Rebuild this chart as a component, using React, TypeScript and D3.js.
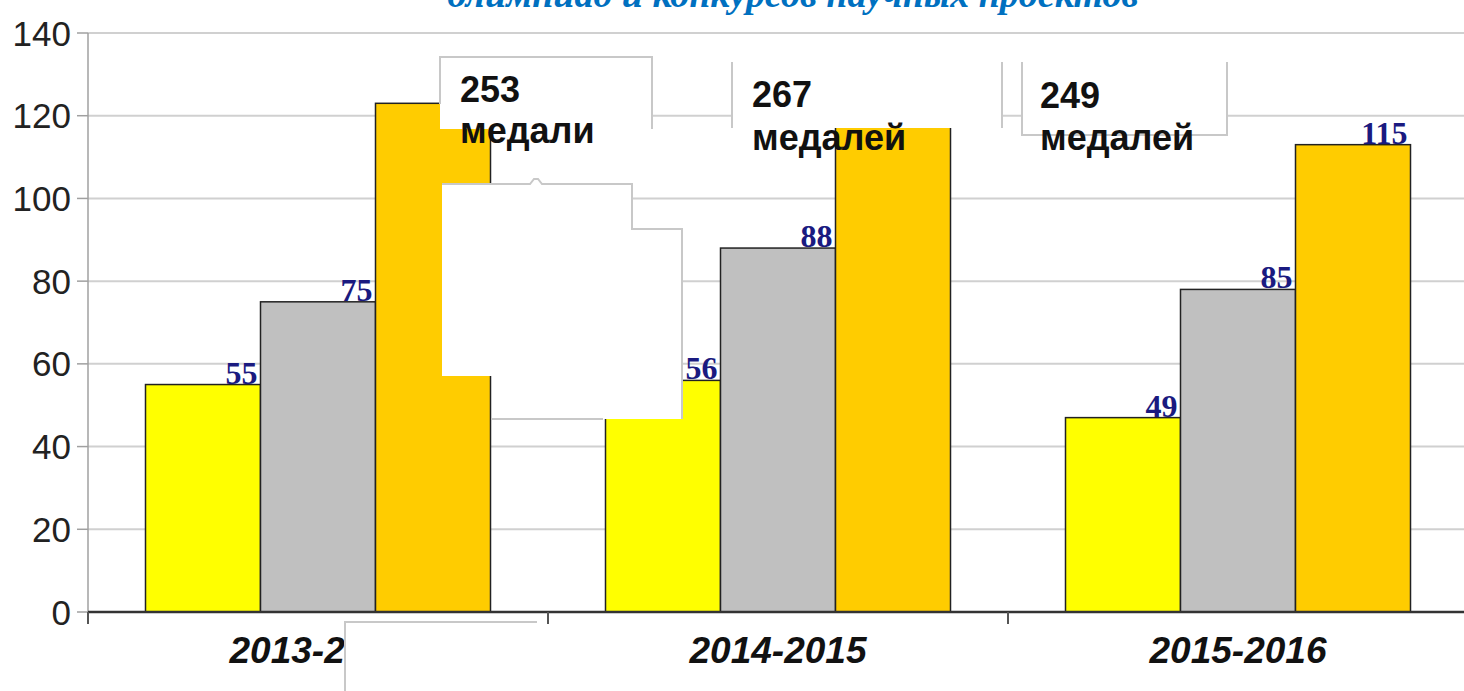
import React from 'react';
import * as d3 from 'd3';

// data
const categories = ['2013-2014', '2014-2015', '2015-2016'];
const seriesNames = ['yellow', 'gray', 'orange'];
const yellowValues = [55, 56, 47];
const grayValues = [75, 88, 78];
const orangeValues = [123, 123, 113];
// printed labels (the last group's labels differ from bar heights in the original;
// the first two orange labels are hidden under the callouts)
const yellowLabels = ['55', '56', '49'];
const grayLabels = ['75', '88', '85'];
const orangeLabels = ['', '', '115'];
const totals = ['253', '267', '249'];
const totalWords = ['медали', 'медалей', 'медалей'];
const yTicks = [0, 20, 40, 60, 80, 100, 120, 140];
const title = 'олимпиад и конкурсов научных проектов';

const W = 1464;
const H = 691;
const colors = ['#ffff00', '#c0c0c0', '#ffcc00'];

const App = () => {
  const x = d3.scaleBand().domain(categories).range([88, 1468]);
  const xSub = d3.scaleBand().domain(seriesNames).range([57.5, 402.5]);
  const y = d3.scaleLinear().domain([0, 140]).range([612, 33]);

  const values = [yellowValues, grayValues, orangeValues];
  const labels = [yellowLabels, grayLabels, orangeLabels];

  // leftover white callout boxes from the original slide
  const boxFill = [
    [440, 57, 212, 72],
    [732, 62, 270, 66],
    [1022, 62, 205, 73],
    [442, 184, 190, 192],
    [492, 229, 190, 190],
    [345, 622, 192, 69],
  ];
  const boxBorders = [
    'M440,104 V57 H652 V129',
    'M732,62 V128 M1002,62 V128',
    'M1022,62 V135 H1227 V62',
    'M442,184 H530 L534,179 L538,179 L542,184 H632 V229 H682 V419',
    'M492,419 H603',
    'M345,691 V622 H537',
  ];
  const totalPos = [
    [460, 102, 143],
    [752, 107, 150],
    [1040, 108, 150],
  ];

  return (
    <svg width={W} height={H} style={{ position: 'absolute', left: 0, top: 0, background: '#fff' }}>
      <text x={793} y={7} textAnchor="middle" fontFamily="Liberation Serif" fontWeight="bold"
        fontStyle="italic" fontSize={38} fill="#0070c0">{title}</text>

      {/* grid */}
      {yTicks.filter(t => t > 0).map(t => (
        <line key={t} x1={88} x2={W} y1={y(t)} y2={y(t)} stroke="#d0d0d0" strokeWidth={2} />
      ))}
      {yTicks.map(t => (
        <g key={'yt' + t}>
          <line x1={77} x2={88} y1={y(t)} y2={y(t)} stroke="#a0a0a0" strokeWidth={1.5} />
          <text x={71} y={y(t)} dy="0.36em" textAnchor="end" fontFamily="Liberation Sans"
            fontSize={35} fill="#222">{t}</text>
        </g>
      ))}
      <line x1={88} x2={88} y1={y(140)} y2={y(0) + 10} stroke="#a0a0a0" strokeWidth={1.5} />

      {/* bars */}
      {categories.map((c, i) => (
        <g key={c} transform={`translate(${x(c)},0)`}>
          {seriesNames.map((s, j) => (
            <rect key={s} x={xSub(s)} y={y(values[j][i])} width={xSub.bandwidth()}
              height={y(0) - y(values[j][i])} fill={colors[j]} stroke="#222" strokeWidth={1.5} />
          ))}
          {seriesNames.map((s, j) => labels[j][i] ? (
            <text key={'l' + s} x={(xSub(s) as number) + xSub.bandwidth() - 3} y={y(values[j][i]) - 1}
              textAnchor="end" fontFamily="Liberation Serif" fontWeight="bold" fontSize={32}
              fill="#1a1a80">{labels[j][i]}</text>
          ) : null)}
        </g>
      ))}

      {/* x axis */}
      <line x1={88} x2={W} y1={y(0)} y2={y(0)} stroke="#333" strokeWidth={2.5} />
      {categories.map(c => (
        <line key={'xt' + c} x1={x(c)} x2={x(c)} y1={y(0)} y2={y(0) + 12} stroke="#555" strokeWidth={2} />
      ))}
      {categories.map(c => (
        <text key={'xl' + c} x={(x(c) as number) + x.bandwidth() / 2} y={663} textAnchor="middle"
          fontFamily="Liberation Sans" fontWeight="bold" fontStyle="italic" fontSize={37}
          fill="#111">{c}</text>
      ))}

      {/* white boxes */}
      {boxFill.map((b, i) => (
        <rect key={'bf' + i} x={b[0]} y={b[1]} width={b[2]} height={b[3]} fill="#fff" />
      ))}
      {boxBorders.map((d, i) => (
        <path key={'bb' + i} d={d} fill="none" stroke="#c8c8c8" strokeWidth={2} />
      ))}

      {totals.map((t, i) => (
        <g key={'tot' + i} fontFamily="Liberation Sans" fontWeight="bold" fontSize={36} fill="#111">
          <text x={totalPos[i][0]} y={totalPos[i][1]}>{t}</text>
          <text x={totalPos[i][0]} y={totalPos[i][2]}>{totalWords[i]}</text>
        </g>
      ))}
    </svg>
  );
};

export default App;
